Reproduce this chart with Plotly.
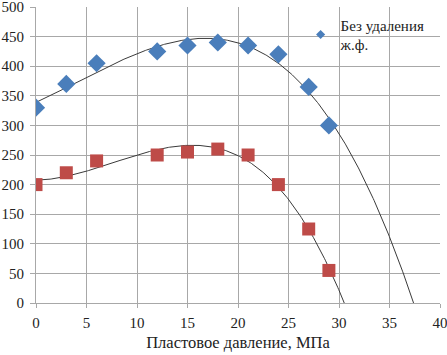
import numpy as np
import plotly.graph_objects as go

pressure = [0, 3, 6, 12, 15, 18, 21, 24, 27, 29]
blue_vals = [330, 370, 405, 425, 435, 440, 435, 420, 365, 300]
red_vals = [200, 220, 240, 250, 255, 260, 250, 200, 125, 55]
legend_name = "Без удаления<br>ж.ф."
x_title = "Пластовое давление, МПа"
x_ticks = [0, 5, 10, 15, 20, 25, 30, 35, 40]
y_ticks = [0, 50, 100, 150, 200, 250, 300, 350, 400, 450, 500]

def trend(xs, ys, deg, xmax):
    c = np.polyfit(xs, ys, deg)
    xx = np.linspace(0, xmax, 400)
    yy = np.polyval(c, xx)
    mask = yy >= -5
    return xx[mask], yy[mask]

bx, by = trend(pressure, blue_vals, 3, 40)
rx, ry = trend(pressure, red_vals, 3, 40)

BLUE = "#4A7EBB"
RED = "#BE4B48"
GRID = "#a8a8a8"
font = "Liberation Serif"

fig = go.Figure()
fig.add_trace(go.Scatter(x=bx, y=by, mode="lines", line=dict(color="#3a3a3a", width=1), showlegend=False, hoverinfo="skip"))
fig.add_trace(go.Scatter(x=rx, y=ry, mode="lines", line=dict(color="#3a3a3a", width=1), showlegend=False, hoverinfo="skip"))
fig.add_trace(go.Scatter(x=pressure, y=blue_vals, mode="markers", showlegend=False,
                         marker=dict(symbol="diamond", size=14, color=BLUE)))
fig.add_trace(go.Scatter(x=pressure, y=red_vals, mode="markers", showlegend=False,
                         marker=dict(symbol="square", size=13, color=RED)))
# legend-only entry with small symbol
fig.add_trace(go.Scatter(x=[None], y=[None], mode="markers", name=legend_name,
                         marker=dict(symbol="diamond", size=7, color=BLUE)))

fig.update_layout(
    width=447, height=355,
    margin=dict(l=36, r=7, t=7, b=52, autoexpand=False),
    paper_bgcolor="white", plot_bgcolor="white",
    font=dict(family=font, size=15, color="#222"),
    showlegend=True,
    legend=dict(x=0.655, y=0.995, xanchor="left", yanchor="top", bgcolor="rgba(0,0,0,0)",
                font=dict(family=font, size=15, color="#222"), itemwidth=30, tracegroupgap=0),
    xaxis=dict(range=[0, 40], tickvals=x_ticks, showgrid=True, gridcolor=GRID, gridwidth=1,
               showline=True, linecolor=GRID, ticks="outside", ticklen=4, tickcolor=GRID,
               zeroline=False, ticklabeloverflow="allow", ticklabelstandoff=2, automargin=False,
               title=dict(text=x_title, font=dict(family=font, size=16.5), standoff=6),
               tickfont=dict(family=font, size=15)),
    yaxis=dict(range=[0, 500], tickvals=y_ticks, showgrid=True, gridcolor=GRID, gridwidth=1,
               showline=True, linecolor=GRID, ticks="outside", ticklen=5, tickcolor=GRID,
               zeroline=False, ticklabeloverflow="allow", ticklabelstandoff=3, automargin=False,
               tickfont=dict(family=font, size=15)),
)
fig.write_html("out.html", post_script="document.body.style.margin='0';",
               config={"displayModeBar": False})
